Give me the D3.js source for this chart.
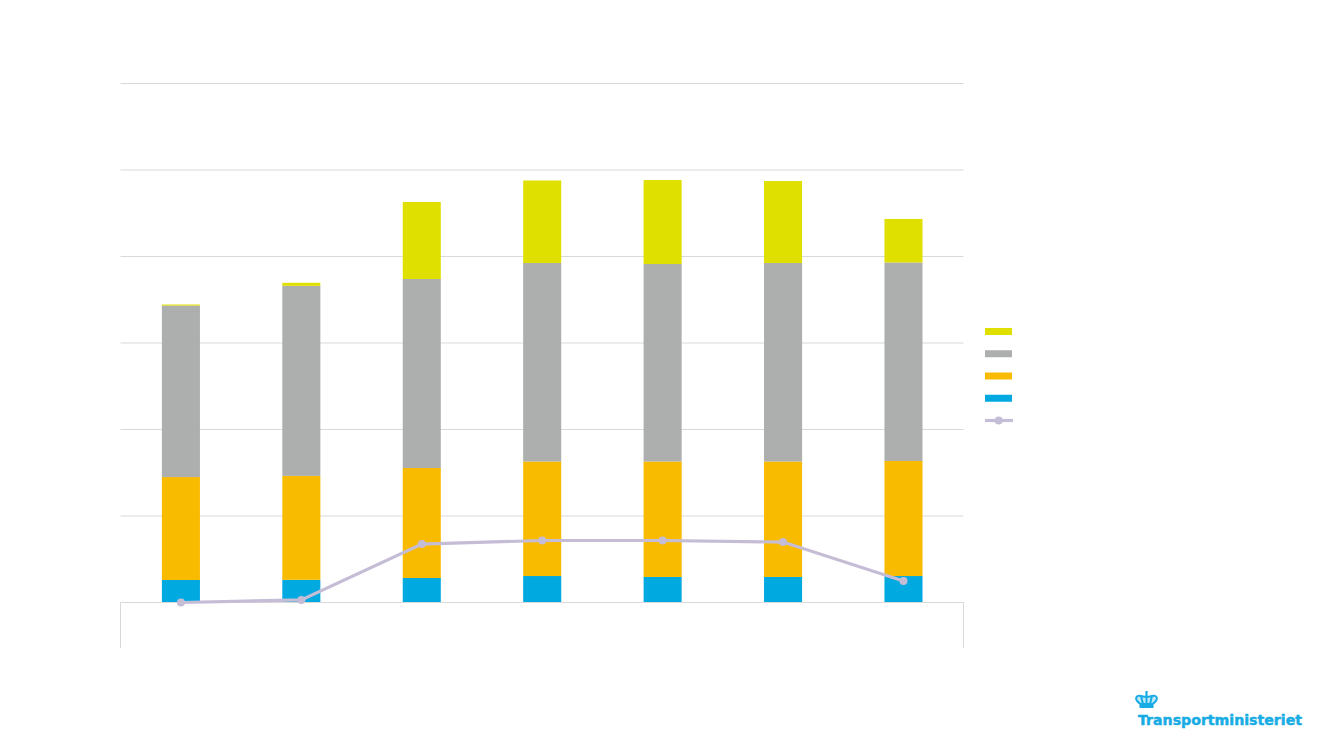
<!DOCTYPE html>
<html><head><meta charset="utf-8">
<script src="https://cdn.jsdelivr.net/npm/d3@7"></script>
<style>html,body{margin:0;padding:0;background:#fff;overflow:hidden}svg{display:block}</style>
</head><body><svg id="c" width="1333" height="750"></svg>
<script>
const categories = ["1","2","3","4","5","6","7"];
const blue   = [260, 262, 283, 306, 295, 295, 306];
const orange = [1190, 1202, 1272, 1324, 1335, 1335, 1330];
const gray   = [1983, 2197, 2185, 2295, 2283, 2295, 2295];
const yellow = [12, 35, 890, 954, 971, 948, 503];
const lineValues = [0, 30, 676, 717, 717, 699, 249];
const tickValues = [0, 1000, 2000, 3000, 4000, 5000, 6000];
const seriesNames = ["blue", "orange", "gray", "yellow"];
const colors = {blue:"#00a9e0", orange:"#f9bb00", gray:"#adafae", yellow:"#e0e000"};
const lineColor = "#c5bcd6";

const svg = d3.select("#c");
const y = d3.scaleLinear().domain([0, 6000]).range([602.5, 83.5]);
const x = d3.scaleBand().domain(categories).range([120.7, 963.7]).paddingInner(0.684).paddingOuter(0.342);

svg.append("g").selectAll("line").data(tickValues).join("line")
  .attr("x1", 120.5).attr("x2", 963.5)
  .attr("y1", d => y(d)).attr("y2", d => y(d))
  .attr("stroke", "#d9d9d9").attr("stroke-width", 1);

const rows = categories.map((c, i) => ({c, blue: blue[i], orange: orange[i], gray: gray[i], yellow: yellow[i]}));
const stacked = d3.stack().keys(seriesNames)(rows);
svg.append("g").selectAll("g").data(stacked).join("g")
  .attr("fill", d => colors[d.key])
  .selectAll("rect").data(d => d).join("rect")
  .attr("x", d => x(d.data.c)).attr("width", x.bandwidth())
  .attr("y", d => y(d[1])).attr("height", d => y(d[0]) - y(d[1]));

svg.append("path")
  .attr("d", `M120.5,648V${y(0)}H963.5V648`)
  .attr("fill", "none").attr("stroke", "#d9d9d9").attr("stroke-width", 1);

const cx = c => x(c) + x.bandwidth() / 2;
const line = d3.line().x((d, i) => cx(categories[i])).y(d => y(d));
svg.append("path").datum(lineValues).attr("d", line)
  .attr("fill", "none").attr("stroke", lineColor).attr("stroke-width", 3.2);
svg.append("g").selectAll("circle").data(lineValues).join("circle")
  .attr("cx", (d, i) => cx(categories[i])).attr("cy", d => y(d)).attr("r", 4).attr("fill", lineColor);

// legend
const legendOrder = ["yellow", "gray", "orange", "blue"];
const ly = d3.scalePoint().domain([...legendOrder, "line"]).range([331.5, 420.5]);
svg.append("g").selectAll("rect").data(legendOrder).join("rect")
  .attr("x", 985).attr("width", 27).attr("height", 7)
  .attr("y", d => ly(d) - 3.5).attr("fill", d => colors[d]);
svg.append("line").attr("x1", 985).attr("x2", 1013).attr("y1", ly("line")).attr("y2", ly("line"))
  .attr("stroke", lineColor).attr("stroke-width", 3.2);
svg.append("circle").attr("cx", 998.7).attr("cy", ly("line")).attr("r", 4).attr("fill", lineColor);

// logo
const logo = svg.append("g").attr("fill", "#18ace4");
logo.append("text").attr("x", 1138).attr("y", 725)
  .attr("font-family", "'DejaVu Sans', sans-serif").attr("font-weight", 700).attr("font-size", 14.5)
  .attr("stroke", "#18ace4").attr("stroke-width", 0.5)
  .attr("textLength", 164).attr("lengthAdjust", "spacingAndGlyphs").text("Transportministeriet");
logo.append("path").attr("fill", "#bfe8f8").attr("stroke", "#18ace4").attr("stroke-width", 2)
  .attr("d", "M1140.5,704C1133,699 1136.5,694.5 1141,696C1143,696.7 1145,697 1146.5,696.5C1148,697 1150,696.7 1152,696C1156.5,694.5 1160,699 1152.5,704Z M1141,696L1143,704 M1152,696L1150,704 M1146.5,696.5V704");
logo.append("rect").attr("x", 1139.5).attr("y", 703.5).attr("width", 14).attr("height", 4.5);
logo.append("rect").attr("x", 1145.4).attr("y", 691).attr("width", 2.2).attr("height", 5.5);
</script></body></html>
